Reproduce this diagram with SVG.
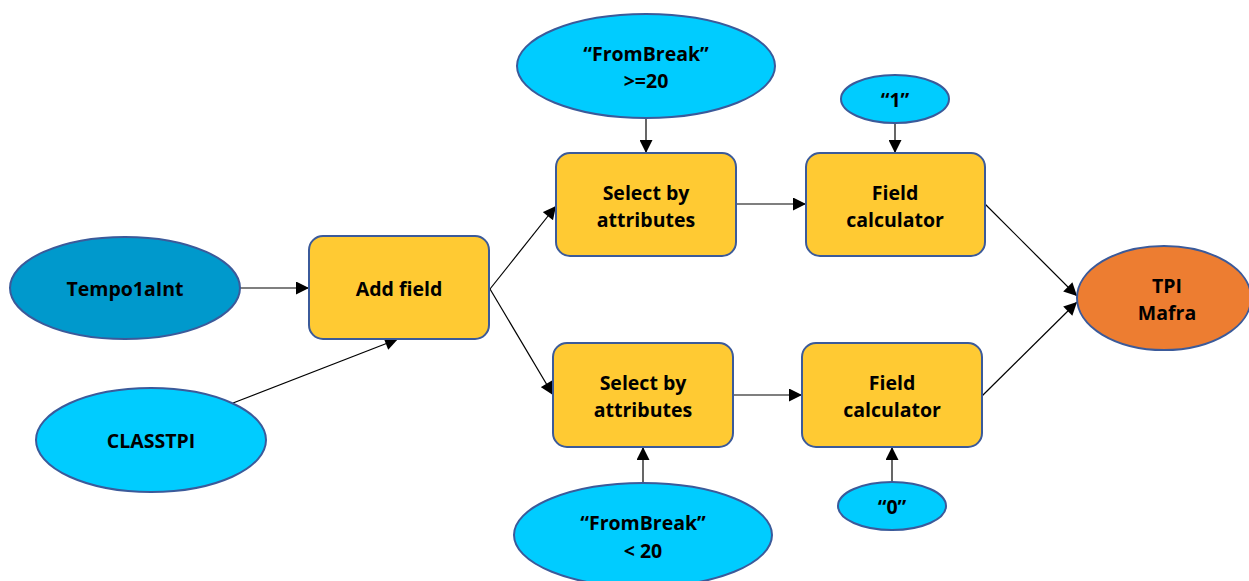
<svg xmlns="http://www.w3.org/2000/svg" width="1249" height="581" viewBox="0 0 1249 581">
  <defs>
    <marker id="arrow" viewBox="0 0 10 10" refX="10" refY="5" markerWidth="14" markerHeight="13" markerUnits="userSpaceOnUse" orient="auto">
      <path d="M0,0 L10,5 L0,10 z" fill="#000"/>
    </marker>
    <style>
      .proc { fill: #FFCA33; stroke: #3B5A9A; stroke-width: 2; }
      .data { fill: #00CCFF; stroke: #3B5A9A; stroke-width: 2; }
      .src { fill: #0099CC; stroke: #3B5A9A; stroke-width: 2; }
      .out { fill: #ED7D31; stroke: #3B5A9A; stroke-width: 2; }
      .lbl { font-family: "Open Sans", "Liberation Sans", sans-serif; font-weight: bold; font-size: 19.5px; fill: #000; text-anchor: middle; dominant-baseline: central; }
      .edge { stroke: #000; stroke-width: 1.2; fill: none; marker-end: url(#arrow); }
    </style>
  </defs>
  <rect width="1249" height="581" fill="#fff"/>

  <g id="connectors">
    <line class="edge" x1="240" y1="288" x2="309" y2="288"/>
    <line class="edge" x1="233" y1="403" x2="398" y2="339"/>
    <line class="edge" x1="490" y1="289" x2="556" y2="206"/>
    <line class="edge" x1="490" y1="289" x2="553" y2="395"/>
    <line class="edge" x1="646" y1="118" x2="646" y2="153"/>
    <line class="edge" x1="895" y1="123" x2="895" y2="153"/>
    <line class="edge" x1="736" y1="204" x2="806" y2="204"/>
    <line class="edge" x1="733" y1="395" x2="802" y2="395"/>
    <line class="edge" x1="643" y1="483" x2="643" y2="447"/>
    <line class="edge" x1="892" y1="482" x2="892" y2="447"/>
    <line class="edge" x1="985" y1="204" x2="1077" y2="296"/>
    <line class="edge" x1="982" y1="396" x2="1077" y2="302"/>
  </g>

  <g id="tempo1aint">
    <ellipse class="src" cx="125" cy="288" rx="115" ry="51"/>
    <text class="lbl" x="125" y="288">Tempo1aInt</text>
  </g>
  <g id="classtpi">
    <ellipse class="data" cx="151" cy="440" rx="115" ry="52"/>
    <text class="lbl" x="151" y="440">CLASSTPI</text>
  </g>
  <g id="add-field">
    <rect class="proc" x="309" y="236" width="180" height="103" rx="14"/>
    <text class="lbl" x="399" y="288">Add field</text>
  </g>
  <g id="frombreak-ge20">
    <ellipse class="data" cx="646" cy="66" rx="129" ry="52"/>
    <text class="lbl" x="646" y="53">“FromBreak”</text>
    <text class="lbl" x="646" y="80">&gt;=20</text>
  </g>
  <g id="select-top">
    <rect class="proc" x="556" y="153" width="180" height="103" rx="14"/>
    <text class="lbl" x="646" y="192">Select by</text>
    <text class="lbl" x="646" y="219">attributes</text>
  </g>
  <g id="value-1">
    <ellipse class="data" cx="895" cy="99" rx="54" ry="24"/>
    <text class="lbl" x="895" y="99">“1”</text>
  </g>
  <g id="calc-top">
    <rect class="proc" x="806" y="153" width="179" height="103" rx="14"/>
    <text class="lbl" x="895" y="192">Field</text>
    <text class="lbl" x="895" y="219">calculator</text>
  </g>
  <g id="select-bottom">
    <rect class="proc" x="553" y="343" width="180" height="104" rx="14"/>
    <text class="lbl" x="643" y="382">Select by</text>
    <text class="lbl" x="643" y="409">attributes</text>
  </g>
  <g id="calc-bottom">
    <rect class="proc" x="802" y="343" width="180" height="104" rx="14"/>
    <text class="lbl" x="892" y="382">Field</text>
    <text class="lbl" x="892" y="409">calculator</text>
  </g>
  <g id="frombreak-lt20">
    <ellipse class="data" cx="643" cy="535" rx="129" ry="52"/>
    <text class="lbl" x="643" y="522">“FromBreak”</text>
    <text class="lbl" x="643" y="550">&lt; 20</text>
  </g>
  <g id="value-0">
    <ellipse class="data" cx="892" cy="506" rx="54" ry="24"/>
    <text class="lbl" x="892" y="506">“0”</text>
  </g>
  <g id="tpi-mafra">
    <ellipse class="out" cx="1164" cy="298" rx="87" ry="52"/>
    <text class="lbl" x="1167" y="285">TPI</text>
    <text class="lbl" x="1167" y="312">Mafra</text>
  </g>
</svg>
